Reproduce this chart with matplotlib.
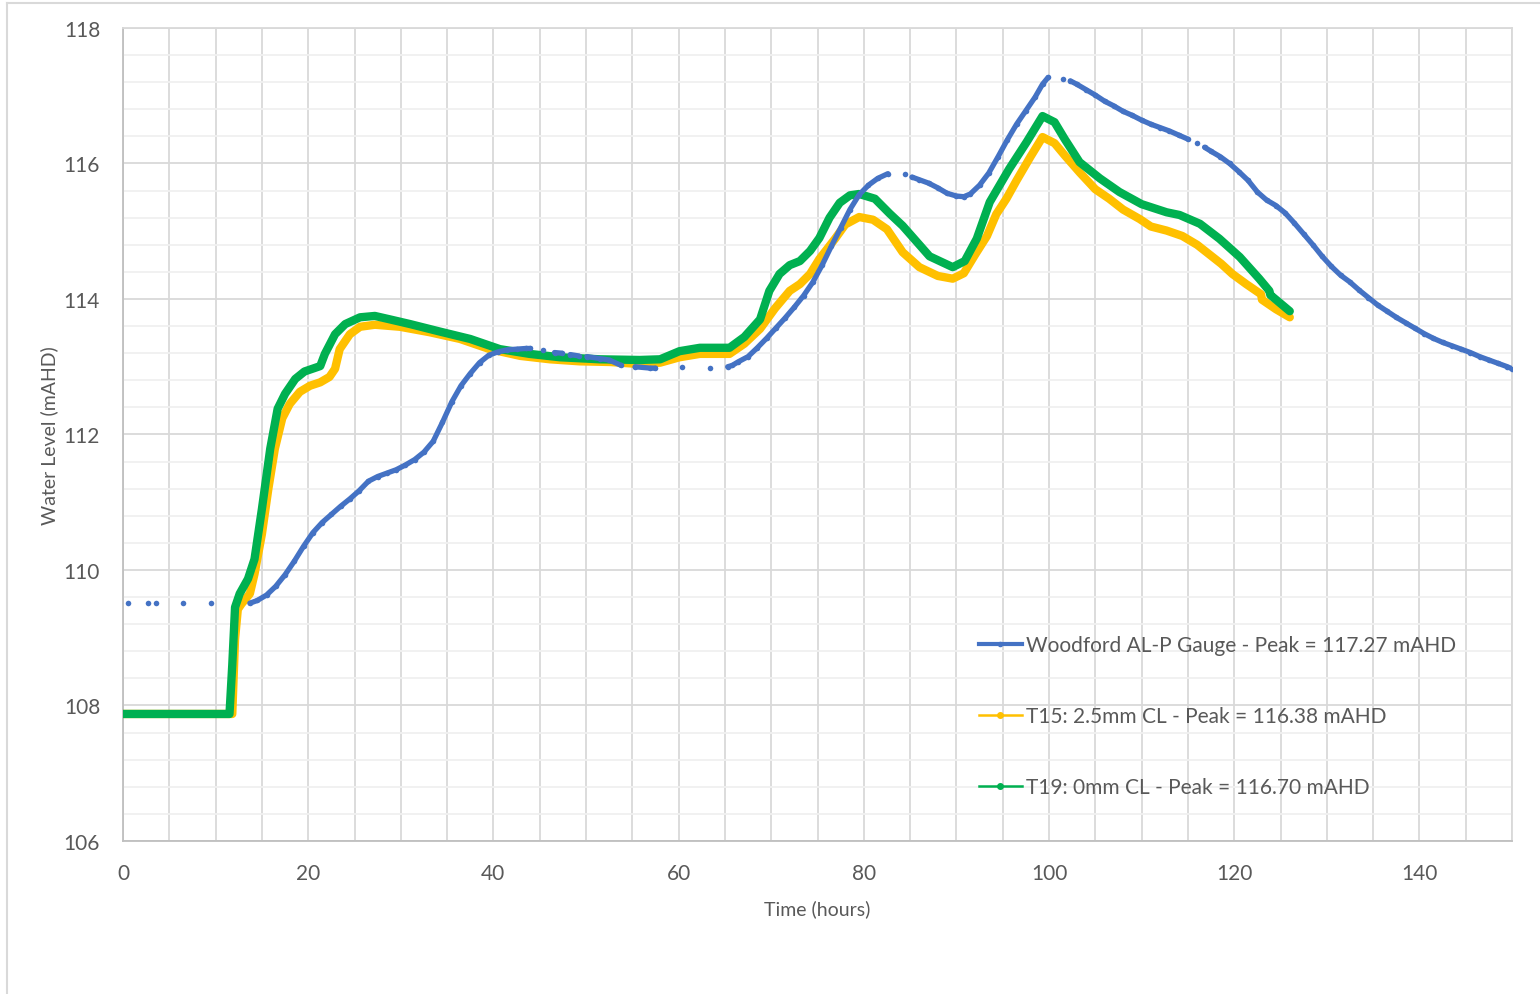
import numpy as np
import matplotlib.pyplot as plt
from matplotlib.lines import Line2D
from matplotlib.ticker import MultipleLocator

nan = np.nan

# Woodford AL-P gauge (gaps = missing records)
gauge_t = [0.5, nan, 2.7, nan, 3.6, nan, 6.5, nan, 9.5, nan,
           13.7, 14.5, 15.5, 16.5, 17.5, 18.5, 19.5, 20.5, 21.5, 22.5, 23.5, 24.5,
           25.5, 26.5, 27.5, 28.5, 29.5, 30.5, 31.5, 32.5, 33.5, 34.5, 35.5, 36.5,
           37.5, 38.5, 39.5, 40.5, 41.5, 42.5, 43.5, 44.0, nan,
           45.4, nan, 46.6, 47.4, nan, 48.3, 49.2, nan, 50.1, 51.5, 52.5, 53.8, nan,
           55.3, 56.9, 57.5, nan, 60.4, nan, 63.4, nan,
           65.3, 65.8, 66.4, 67.5, 68.5, 69.5, 70.5, 71.5, 72.5, 73.5, 74.5, 75.5,
           76.5, 77.5, 78.5, 79.5, 80.5, 81.5, 82.6, nan, 84.4, nan,
           85.2, 86.0, 87.0, 88.0, 89.0, 90.0, 90.8, 91.5, 92.5, 93.5, 94.5, 95.5,
           96.5, 97.5, 98.5, 99.3, 99.9, nan, 101.5, nan,
           102.3, 103.0, 104.0, 105.0, 106.0, 107.0, 108.0, 109.0, 110.0, 111.0,
           112.0, 113.0, 114.0, 115.0, nan, 116.0, nan,
           116.8, 117.5, 118.5, 119.5, 120.5, 121.5, 122.5, 123.5, 124.5, 125.5,
           126.5, 127.5, 128.5, 129.5, 130.5, 131.5, 132.5, 133.5, 134.5, 135.5,
           136.5, 137.5, 138.5, 139.5, 140.5, 141.5, 142.5, 143.5, 144.5, 145.5,
           146.5, 147.5, 148.5, 149.5, 150.0]
gauge_wl = [109.51, nan, 109.51, nan, 109.51, nan, 109.51, nan, 109.51, nan,
            109.51, 109.55, 109.63, 109.76, 109.93, 110.13, 110.35, 110.55, 110.70,
            110.82, 110.94, 111.05, 111.17, 111.31, 111.38, 111.43, 111.48, 111.55,
            111.63, 111.74, 111.90, 112.18, 112.48, 112.72, 112.90, 113.06, 113.17,
            113.22, 113.25, 113.26, 113.27, 113.27, nan,
            113.24, nan, 113.21, 113.20, nan, 113.18, 113.16, nan, 113.15, 113.12,
            113.10, 113.02, nan,
            113.00, 112.98, 112.98, nan, 112.99, nan, 112.98, nan,
            113.00, 113.02, 113.07, 113.15, 113.28, 113.42, 113.57, 113.72, 113.88,
            114.05, 114.25, 114.50, 114.78, 115.05, 115.32, 115.54, 115.68, 115.78,
            115.85, nan, 115.85, nan,
            115.80, 115.76, 115.71, 115.64, 115.56, 115.52, 115.51, 115.55, 115.68,
            115.86, 116.10, 116.35, 116.58, 116.78, 116.98, 117.17, 117.27, nan,
            117.25, nan,
            117.22, 117.17, 117.09, 117.01, 116.92, 116.85, 116.77, 116.71, 116.64,
            116.58, 116.53, 116.48, 116.42, 116.36, nan, 116.30, nan,
            116.24, 116.18, 116.10, 116.00, 115.88, 115.75, 115.58, 115.46, 115.38,
            115.27, 115.12, 114.96, 114.80, 114.63, 114.48, 114.35, 114.25, 114.13,
            114.02, 113.91, 113.82, 113.73, 113.65, 113.57, 113.49, 113.42, 113.36,
            113.31, 113.26, 113.21, 113.15, 113.10, 113.05, 113.00, 112.97]

# T15: 2.5mm CL
t15_t = [0, 11.8, 12.1, 12.4, 12.8, 13.7, 14.2, 15.0, 15.7, 16.4, 17.2, 18.0,
         19.1, 20.2, 21.3, 22.3, 22.9, 23.4, 24.5, 25.6, 27.2, 29.9, 33.1, 36.4,
         39.6, 42.9, 46.1, 49.3, 52.6, 55.8, 58.0, 60.1, 62.3, 65.5, 67.1, 68.8,
         70.4, 72.0, 73.1, 74.2, 75.2, 76.9, 78.0, 79.5, 81.0, 82.5, 84.2, 86.0,
         88.0, 89.6, 90.8, 92.0, 93.3, 94.3, 95.4, 96.5, 98.0, 99.3, 100.6, 101.7,
         103.3, 105.0, 106.5, 108.0, 109.8, 111.0, 112.7, 114.4, 116.0, 117.3,
         118.6, 119.8, 121.3, 122.9, 123.0, 124.5, 126.0]
t15_wl = [107.875, 107.875, 108.98, 109.42, 109.50, 109.65, 109.94, 110.53,
          111.20, 111.79, 112.24, 112.45, 112.63, 112.72, 112.77, 112.85, 112.97,
          113.26, 113.48, 113.59, 113.62, 113.59, 113.51, 113.41, 113.26, 113.16,
          113.11, 113.08, 113.07, 113.04, 113.06, 113.14, 113.19, 113.19, 113.34,
          113.56, 113.86, 114.12, 114.22, 114.37, 114.59, 114.89, 115.10, 115.21,
          115.17, 115.03, 114.69, 114.47, 114.34, 114.30, 114.38, 114.65, 114.93,
          115.25, 115.48, 115.75, 116.10, 116.39, 116.30, 116.12, 115.87, 115.62,
          115.48, 115.32, 115.18, 115.07, 115.01, 114.93, 114.80, 114.66, 114.52,
          114.37, 114.22, 114.07, 113.99, 113.85, 113.73]

# T19: 0mm CL
t19_t = [0, 11.5, 11.8, 12.1, 12.6, 13.5, 14.2, 15.0, 15.9, 16.7, 17.5, 18.6,
         19.6, 21.3, 21.8, 22.9, 24.0, 25.6, 27.2, 28.8, 31.0, 34.2, 37.5, 40.7,
         43.9, 47.2, 51.5, 55.8, 58.0, 60.1, 62.3, 65.5, 67.1, 68.8, 69.8, 70.9,
         72.0, 73.1, 74.2, 75.2, 76.3, 77.4, 78.5, 79.5, 81.2, 82.8, 84.2, 87.1,
         89.6, 90.9, 92.2, 93.6, 95.7, 97.6, 99.3, 100.6, 101.7, 103.3, 105.5,
         107.6, 110.0, 112.7, 114.1, 116.3, 118.4, 120.6, 122.7, 123.8, 123.9, 126.0]
t19_wl = [107.875, 107.875, 108.60, 109.45, 109.65, 109.87, 110.16, 110.90,
          111.79, 112.38, 112.60, 112.82, 112.93, 113.01, 113.19, 113.48, 113.63,
          113.73, 113.75, 113.70, 113.63, 113.52, 113.41, 113.26, 113.19, 113.14,
          113.11, 113.10, 113.11, 113.23, 113.28, 113.28, 113.44, 113.70, 114.12,
          114.37, 114.50, 114.56, 114.71, 114.90, 115.20, 115.42, 115.53, 115.55,
          115.48, 115.26, 115.08, 114.63, 114.47, 114.56, 114.89, 115.43, 115.92,
          116.32, 116.70, 116.61, 116.36, 116.02, 115.78, 115.58, 115.40, 115.28,
          115.24, 115.11, 114.89, 114.62, 114.30, 114.12, 114.06, 113.82]

labels = ['Woodford AL-P Gauge - Peak = 117.27 mAHD',
          'T15: 2.5mm CL - Peak = 116.38 mAHD',
          'T19: 0mm CL - Peak = 116.70 mAHD']
blue, yellow, green = '#4472C4', '#FFC000', '#00B050'
txt = '#595959'

plt.rcParams['font.family'] = ['Lato', 'DejaVu Sans']

fig = plt.figure(figsize=(15.4, 9.95), dpi=100)
ax = fig.add_axes([123 / 1540, 1 - 842 / 995, (1512 - 123) / 1540, (842 - 29) / 995])

ax.plot(t15_t, t15_wl, color=yellow, lw=6, solid_capstyle='round',
        solid_joinstyle='round', zorder=3)
ax.plot(t19_t, t19_wl, color=green, lw=6, solid_capstyle='round',
        solid_joinstyle='round', zorder=4)
ax.plot(gauge_t, gauge_wl, color=blue, lw=3.8, marker='o', ms=4, mew=0,
        solid_capstyle='round', solid_joinstyle='round', zorder=5)

ax.set_xlim(0, 150)
ax.set_ylim(106, 118)
ax.xaxis.set_major_locator(MultipleLocator(20))
ax.xaxis.set_minor_locator(MultipleLocator(5))
ax.yaxis.set_major_locator(MultipleLocator(2))
ax.yaxis.set_minor_locator(MultipleLocator(0.4))
ax.grid(which='major', color='#d9d9d9', lw=1.3)
ax.grid(which='minor', axis='y', color='#f0f0f0', lw=1.3)
ax.grid(which='minor', axis='x', color='#d9d9d9', lw=1.3)
ax.set_axisbelow(True)
ax.tick_params(which='both', length=0, labelsize=15, colors=txt)
ax.tick_params(axis='x', pad=15.5)
ax.tick_params(axis='y', pad=16.5)
for s in ['left', 'bottom']:
    ax.spines[s].set_color('#bfbfbf')
    ax.spines[s].set_linewidth(1.3)
for s in ['top', 'right']:
    ax.spines[s].set_color('#d9d9d9')
    ax.spines[s].set_linewidth(1.3)

ax.set_xlabel('Time (hours)', fontsize=14, color=txt, labelpad=12)
ax.set_ylabel('Water Level (mAHD)', fontsize=14, color=txt, labelpad=4)

handles = [Line2D([], [], color=blue, lw=3, marker='o', ms=3),
           Line2D([], [], color=yellow, lw=1.8, marker='o', ms=4, mfc=yellow),
           Line2D([], [], color=green, lw=1.8, marker='o', ms=4, mfc=green)]
fig.legend(handles, labels, loc='upper left', frameon=False, fontsize=15,
           labelcolor=txt, bbox_to_anchor=(979 / 1540, 1 - 636 / 995),
           borderpad=0, borderaxespad=0, handlelength=2.05, handletextpad=0.2,
           labelspacing=2.45)

# outer chart-area border
fig.add_artist(Line2D([7 / 1540, 1], [1 - 4 / 995, 1 - 4 / 995],
                      transform=fig.transFigure, color='#d9d9d9', lw=1.5))
fig.add_artist(Line2D([7 / 1540, 7 / 1540], [0, 1 - 4 / 995],
                      transform=fig.transFigure, color='#d9d9d9', lw=1.5))

fig.savefig('out.png', dpi=100)
